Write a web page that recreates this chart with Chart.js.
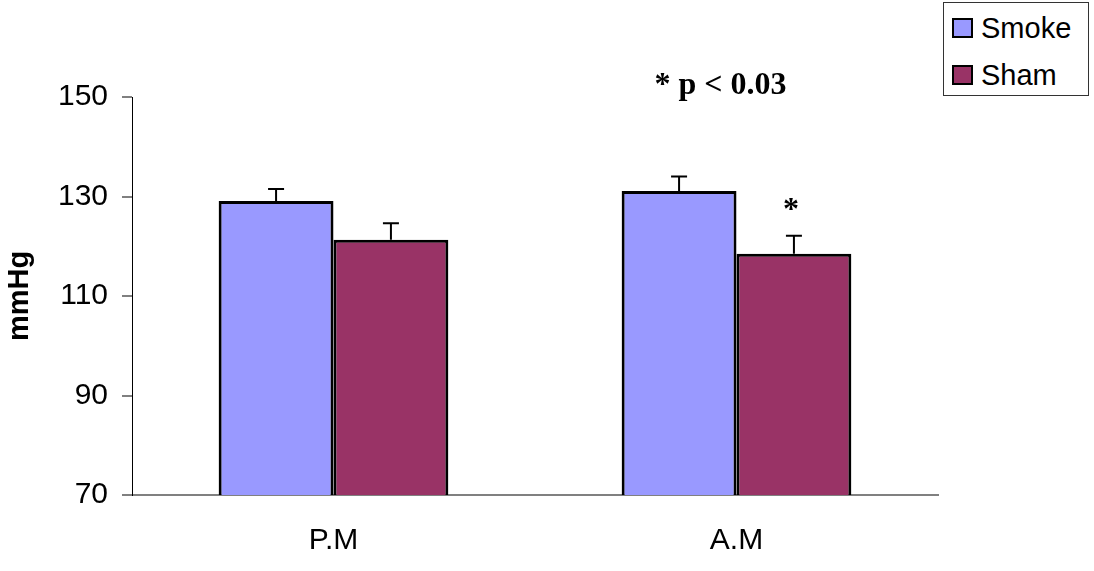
<!DOCTYPE html>
<html>
<head>
<meta charset="utf-8">
<script src="https://cdn.jsdelivr.net/npm/chart.js@4.4.0/dist/chart.umd.min.js"></script>
<style>
  body { margin: 0; background: #fff; }
  #wrap { position: relative; width: 1094px; height: 571px; }
  #legend {
    position: absolute; left: 943px; top: 2px; width: 144px; height: 92px;
    border: 1px solid #333; background: #fff;
    font-family: Arial, "Liberation Sans", sans-serif; font-size: 29px; color: #000;
  }
  #legend .row { position: absolute; left: 8px; height: 34px; display: flex; align-items: center; }
  #legend .sw { width: 17px; height: 16px; border: 2px solid #000; margin-right: 8px; }
</style>
</head>
<body>
<div id="wrap">
  <canvas id="myChart"></canvas>
  <div id="legend"></div>
</div>
<script>
// group means with standard error
let labels = ['P.M', 'A.M'];
let smoke = [129.1, 131.1];
let smokeErr = [2.4, 2.9];
let sham = [121.3, 118.5];
let shamErr = [3.3, 3.6];
let yTicks = [70, 90, 110, 130, 150];

let seriesNames = ['Smoke', 'Sham'];
let seriesColors = ['#9999FF', '#993366'];

// legend box in the top right corner
let legendBox = document.getElementById('legend');
seriesNames.forEach(function (name, i) {
    let row = document.createElement('div');
    row.className = 'row';
    row.style.top = (i === 0 ? 8 : 55) + 'px';
    row.innerHTML = '<span class="sw" style="background:' + seriesColors[i] + '"></span>' + name;
    legendBox.appendChild(row);
});

// error bars + significance marks
let errorBars = {
    id: 'errorBars',
    afterDatasetsDraw: function (chart) {
        let ctx = chart.ctx;
        let y = chart.scales.y;
        let errs = [smokeErr, shamErr];
        ctx.save();
        ctx.strokeStyle = '#000';
        ctx.lineWidth = 2;
        chart.data.datasets.forEach(function (ds, d) {
            chart.getDatasetMeta(d).data.forEach(function (bar, i) {
                let top = y.getPixelForValue(ds.data[i] + errs[d][i]);
                ctx.beginPath();
                ctx.moveTo(bar.x, bar.y);
                ctx.lineTo(bar.x, top);
                ctx.moveTo(bar.x - 8, top);
                ctx.lineTo(bar.x + 8, top);
                ctx.stroke();
            });
        });

        ctx.fillStyle = '#000';
        ctx.font = 'bold 32px "Liberation Serif", "Times New Roman", serif';
        ctx.textAlign = 'center';
        ctx.textBaseline = 'alphabetic';
        let amSham = chart.getDatasetMeta(1).data[1];
        ctx.fillText('*', amSham.x - 3, y.getPixelForValue(sham[1] + shamErr[1]) - 17);
        ctx.fillText('* p < 0.03', chart.scales.x.getPixelForValue(1) - 16, chart.chartArea.top - 3);
        ctx.restore();
    }
};

let ctx = document.getElementById('myChart').getContext('2d');
let chart = new Chart(ctx, {
    type: 'bar',
    data: {
        labels: labels,
        datasets: [{
            label: seriesNames[0],
            data: smoke,
            backgroundColor: seriesColors[0],
            borderColor: '#000',
            borderWidth: 3,
            borderSkipped: false
        }, {
            label: seriesNames[1],
            data: sham,
            backgroundColor: seriesColors[1],
            borderColor: '#000',
            borderWidth: 3,
            borderSkipped: false
        }]
    },
    options: {
        responsive: true,
        maintainAspectRatio: false,
        animation: false,
        layout: { padding: { top: 97, right: 156, left: 0, bottom: 0 } },
        datasets: { bar: { categoryPercentage: 0.57, barPercentage: 1 } },
        plugins: { legend: { display: false }, tooltip: { enabled: false } },
        scales: {
            x: {
                grid: { display: false, drawTicks: false },
                border: { display: true, color: '#808080', width: 2 },
                ticks: { color: '#000', padding: 28, font: { family: 'Arial, "Liberation Sans"', size: 30 } },
                afterFit: function (scale) { scale.height = 76; }
            },
            y: {
                min: 70,
                max: 150,
                afterBuildTicks: function (scale) {
                    scale.ticks = yTicks.map(function (v) { return { value: v }; });
                },
                grid: { drawOnChartArea: false, tickLength: 10, color: '#808080', lineWidth: 2 },
                border: { display: true, color: '#000', width: 1 },
                ticks: { color: '#000', padding: 14, font: { family: 'Arial, "Liberation Sans"', size: 30 } },
                title: {
                    display: true,
                    text: 'mmHg',
                    color: '#000',
                    padding: { top: 3, bottom: 0 },
                    font: { family: 'Arial, "Liberation Sans"', size: 29, weight: 'bold' }
                },
                afterFit: function (scale) { scale.width = 132; }
            }
        }
    },
    plugins: [errorBars]
});
</script>
</body>
</html>
